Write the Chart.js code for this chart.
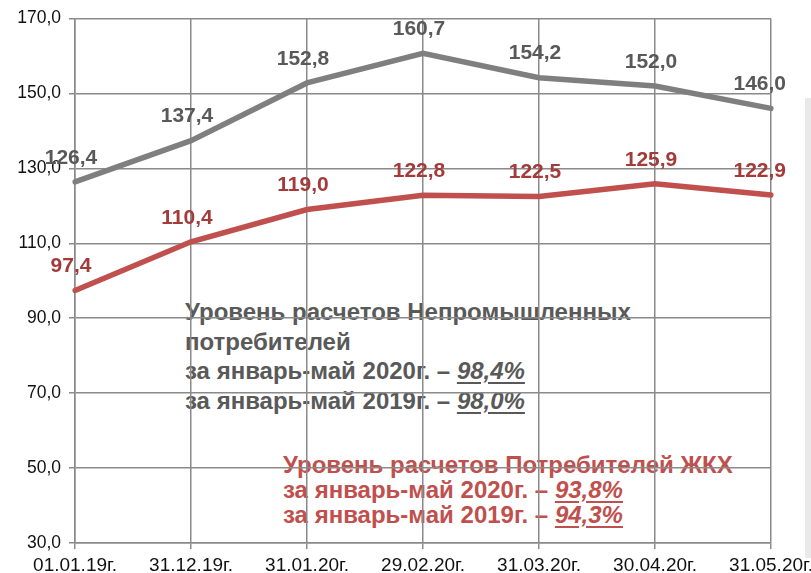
<!DOCTYPE html>
<html>
<head>
<meta charset="utf-8">
<script src="https://cdn.jsdelivr.net/npm/chart.js@4/dist/chart.umd.min.js"></script>
<style>
  html, body { margin: 0; padding: 0; background: #fff; }
  #wrap { position: relative; width: 811px; height: 573px; overflow: hidden; background: #fff; }
  #c { position: absolute; left: 0; top: 0; }
  .note { position: absolute; font-family: "Liberation Sans", Arial, sans-serif; font-weight: bold; font-size: 24px; white-space: nowrap; }
  .note em { text-decoration: underline; text-underline-offset: 3px; text-decoration-thickness: 2px; }
  #greyNote { left: 185px; top: 297px; color: #595959; line-height: 29.5px; }
  #redNote { left: 283px; top: 452px; color: #c0504d; line-height: 25px; }
  #strip { position: absolute; left: 805px; top: 98px; width: 6px; height: 460px; background: #e9e9e9; }
</style>
</head>
<body>
<div id="wrap">
  <div id="strip"></div>
  <div class="note" id="greyNote">Уровень расчетов Непромышленных<br>потребителей<br>за январь-май 2020г. – <em>98,4%</em><br>за январь-май 2019г. – <em>98,0%</em></div>
  <div class="note" id="redNote">Уровень расчетов Потребителей ЖКХ<br>за январь-май 2020г. – <em>93,8%</em><br>за январь-май 2019г. – <em>94,3%</em></div>
  <canvas id="c" width="811" height="573"></canvas>
</div>
<script>
const categories = ["01.01.19г.", "31.12.19г.", "31.01.20г.", "29.02.20г.", "31.03.20г.", "30.04.20г.", "31.05.20г."];
const industrialValues = [126.4, 137.4, 152.8, 160.7, 154.2, 152.0, 146.0];
const housingValues = [97.4, 110.4, 119.0, 122.8, 122.5, 125.9, 122.9];
const yTicks = [30, 50, 70, 90, 110, 130, 150, 170];

const fmt = v => v.toFixed(1).replace('.', ',');

const labelPlugin = {
  id: 'pointLabels',
  afterDatasetsDraw(chart) {
    const ctx = chart.ctx;
    ctx.save();
    ctx.font = 'bold 21px "Liberation Sans", Arial, sans-serif';
    ctx.textAlign = 'center';
    ctx.textBaseline = 'middle';
    chart.data.datasets.forEach((ds, i) => {
      const meta = chart.getDatasetMeta(i);
      ctx.fillStyle = ds.labelColor;
      meta.data.forEach((pt, j) => {
        const txt = fmt(ds.data[j]);
        const w = ctx.measureText(txt).width;
        let x = pt.x - 4;
        x = Math.max(x, w / 2 + 42);
        x = Math.min(x, 786 - w / 2);
        ctx.fillText(txt, x, pt.y - 24);
      });
    });
    ctx.restore();
  }
};

new Chart(document.getElementById('c'), {
  type: 'line',
  data: {
    labels: categories,
    datasets: [
      { data: industrialValues, borderColor: '#7f7f7f', borderWidth: 5.5, pointRadius: 0, tension: 0, labelColor: '#595959', borderCapStyle: 'round' },
      { data: housingValues, borderColor: '#c0504d', borderWidth: 5.5, pointRadius: 0, tension: 0, labelColor: '#a33b3a', borderCapStyle: 'round' }
    ]
  },
  options: {
    responsive: false,
    animation: false,
    layout: { padding: { left: 0, right: 40, top: 16, bottom: 0 } },
    plugins: { legend: { display: false }, tooltip: { enabled: false } },
    scales: {
      x: {
        type: 'category',
        offset: false,
        grid: { color: '#8a8a8a', lineWidth: 1.5, tickLength: 6, offset: false },
        border: { color: '#8a8a8a', width: 1.5 },
        ticks: { color: '#111', font: { family: '"Liberation Sans", Arial, sans-serif', size: 19 }, padding: 5, maxRotation: 0, autoSkip: false },
        afterFit(scale) { scale.height = 30; scale.paddingLeft = 0; scale.paddingRight = 0; }
      },
      y: {
        min: 30, max: 170,
        afterBuildTicks(scale) { scale.ticks = yTicks.map(v => ({ value: v })); },
        grid: { color: '#8a8a8a', lineWidth: 1.5, tickLength: 6 },
        border: { color: '#8a8a8a', width: 1.5 },
        ticks: { color: '#111', font: { family: '"Liberation Sans", Arial, sans-serif', size: 17.5 }, padding: 8, callback: v => fmt(v) },
        afterFit(scale) { scale.width = 75; }
      }
    }
  },
  plugins: [labelPlugin]
});
</script>
</body>
</html>
